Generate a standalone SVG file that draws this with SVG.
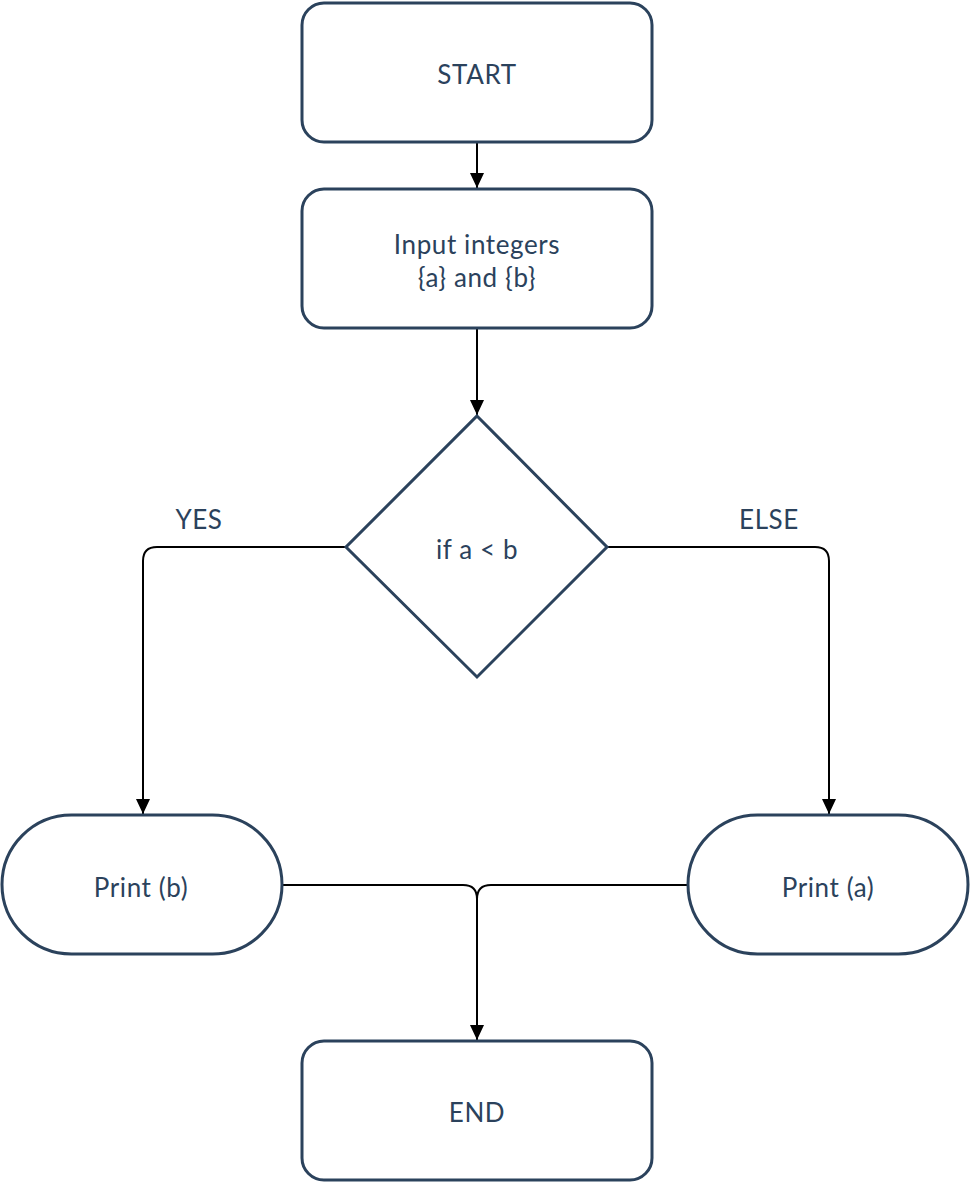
<svg xmlns="http://www.w3.org/2000/svg" width="970" height="1182" viewBox="0 0 970 1182">
<defs>
<marker id="arr" markerWidth="14" markerHeight="16" refX="15" refY="7" orient="auto" markerUnits="userSpaceOnUse"><path d="M0,0 L15,7 L0,14 Z" fill="#000"/></marker>
<style>
.n{fill:#fff;stroke:#2b425c;stroke-width:3}
.t{font-family:Lato,"Open Sans",sans-serif;font-size:26px;fill:#2b425c;text-anchor:middle;dominant-baseline:central;letter-spacing:0.6px}
.c{fill:none;stroke:#000;stroke-width:2;marker-end:url(#arr)}
.c2{fill:none;stroke:#000;stroke-width:2}
</style>
</defs>
<rect width="970" height="1182" fill="#fff"/>
<g id="connectors">
<path class="c" d="M477,143 V188"/>
<path class="c" d="M477,329 V415"/>
<path class="c" d="M346,547 H157 Q143,547 143,561 V814"/>
<path class="c" d="M607,547 H815 Q829,547 829,561 V814"/>
<path class="c2" d="M283,885 H463 Q477,885 477,899"/>
<path class="c2" d="M688,885 H491 Q477,885 477,899"/>
<path class="c" d="M477,899 V1040"/>
</g>
<g id="start"><rect class="n" x="302" y="3" width="350" height="139" rx="22"/><text class="t" x="477" y="74">START</text></g>
<g id="input"><rect class="n" x="302" y="189" width="350" height="139" rx="22"/><text class="t" x="477" y="244">Input integers</text><text class="t" x="477" y="277">{a} and {b}</text></g>
<g id="decision"><polygon class="n" points="477,416 607,547 477,677 346,547"/><text class="t" x="477" y="549">if a &lt; b</text></g>
<g id="printb"><rect class="n" x="2" y="815" width="280" height="139" rx="69.5"/><text class="t" x="141" y="887">Print (b)</text></g>
<g id="printa"><rect class="n" x="688" y="815" width="280" height="139" rx="69.5"/><text class="t" x="828" y="887">Print (a)</text></g>
<g id="end"><rect class="n" x="302" y="1041" width="350" height="139" rx="22"/><text class="t" x="477" y="1112">END</text></g>
<g id="labels"><text class="t" x="199" y="519">YES</text><text class="t" x="769" y="519">ELSE</text></g>
</svg>
